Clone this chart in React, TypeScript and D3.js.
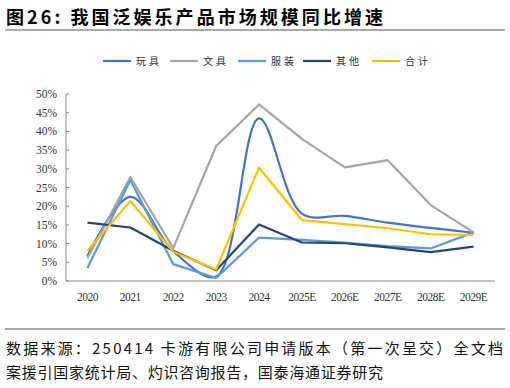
import React, { useEffect, useRef } from 'react';
import * as d3 from 'd3';

const years = ['2020', '2021', '2022', '2023', '2024', '2025E', '2026E', '2027E', '2028E', '2029E'];
const toys = [6.7, 22.5, 8.0, 1.2, 43.5, 18.0, 17.4, 15.6, 14.2, 12.9];
const stationery = [6.1, 27.8, 8.8, 36.1, 47.2, 38.0, 30.4, 32.3, 20.3, 13.0];
const apparel = [3.5, 27.0, 4.5, 0.8, 11.6, 11.0, 10.3, 9.3, 8.7, 13.0];
const others = [15.6, 14.3, 8.1, 2.9, 15.1, 10.3, 10.1, 9.0, 7.7, 9.2];
const total = [8.1, 21.4, 7.8, 3.1, 30.3, 16.3, 15.2, 14.1, 12.5, 12.3];
const yTicks = [0, 5, 10, 15, 20, 25, 30, 35, 40, 45, 50];

const series = [
  { name: '玩具', values: toys, color: '#4472C4', smooth: true },
  { name: '文具', values: stationery, color: '#A5A5A5', smooth: false },
  { name: '服装', values: apparel, color: '#5B9BD5', smooth: false },
  { name: '其他', values: others, color: '#264478', smooth: false },
  { name: '合计', values: total, color: '#FFC000', smooth: false },
];

const App = () => {
  const svgRef = useRef<SVGSVGElement>(null);

  useEffect(() => {
    const svg = d3.select(svgRef.current);
    svg.selectAll('*').remove();

    const left = 66, right = 495, top = 94, bottom = 281;
    const x = d3.scaleBand().domain(years).range([left, right]);
    const y = d3.scaleLinear().domain([0, 50]).range([bottom, top]);
    const cx = (d: string) => (x(d) as number) + x.bandwidth() / 2;

    // title
    svg.append('text').attr('x', 6).attr('y', 24)
      .attr('font-family', '"Noto Sans CJK SC", sans-serif')
      .attr('font-weight', 'bold').attr('font-size', 18).attr('fill', '#000')
      .attr('textLength', 377).attr('lengthAdjust', 'spacing')
      .text('图26:  我国泛娱乐产品市场规模同比增速');
    svg.append('line').attr('x1', 5).attr('x2', 505).attr('y1', 30).attr('y2', 30)
      .attr('stroke', '#555').attr('stroke-width', 1);

    // y axis
    svg.append('line').attr('x1', left).attr('x2', left).attr('y1', top).attr('y2', bottom)
      .attr('stroke', '#868686');
    svg.selectAll('.yt').data(yTicks).join('line')
      .attr('x1', left).attr('x2', left + 3)
      .attr('y1', (d) => y(d)).attr('y2', (d) => y(d))
      .attr('stroke', '#868686');
    svg.selectAll('.yl').data(yTicks).join('text')
      .attr('x', 57).attr('y', (d) => y(d) + 4)
      .attr('text-anchor', 'end')
      .attr('font-family', '"Liberation Serif", serif').attr('font-size', 11.5).attr('fill', '#333')
      .text((d) => `${d}%`);

    // x axis
    svg.append('line').attr('x1', left).attr('x2', right).attr('y1', bottom).attr('y2', bottom)
      .attr('stroke', '#868686');
    svg.selectAll('.xl').data(years).join('text')
      .attr('x', (d) => cx(d)).attr('y', 301)
      .attr('text-anchor', 'middle')
      .attr('font-family', '"Liberation Serif", serif').attr('font-size', 11.5)
      .attr('letter-spacing', -0.5).attr('fill', '#333')
      .text((d) => d);

    // lines
    series.forEach((s) => {
      const line = d3.line<number>()
        .x((_, i) => cx(years[i]))
        .y((d) => y(d))
        .curve(s.smooth ? d3.curveCatmullRom.alpha(0.5) : d3.curveLinear);
      svg.append('path').datum(s.values)
        .attr('d', line)
        .attr('fill', 'none').attr('stroke', s.color).attr('stroke-width', 2.2)
        .attr('stroke-linejoin', 'round');
    });

    // legend
    const legendX = [103, 170, 238, 303, 372];
    series.forEach((s, i) => {
      const g = svg.append('g').attr('transform', `translate(${legendX[i]},61)`);
      g.append('line').attr('x1', 0).attr('x2', 28).attr('y1', 0).attr('y2', 0)
        .attr('stroke', s.color).attr('stroke-width', 2.2);
      g.append('text').attr('x', 33).attr('y', 4)
        .attr('font-family', '"Noto Sans CJK SC", sans-serif').attr('font-size', 10)
        .attr('letter-spacing', 3).attr('fill', '#333')
        .text(s.name);
    });

    // footer
    svg.append('line').attr('x1', 5).attr('x2', 505).attr('y1', 329).attr('y2', 329)
      .attr('stroke', '#555').attr('stroke-width', 1);
    const foot = [
      '数据来源：250414 卡游有限公司申请版本（第一次呈交）全文档',
      '案援引国家统计局、灼识咨询报告，国泰海通证券研究',
    ];
    const footLen = [497, 377];
    foot.forEach((t, i) => {
      svg.append('text').attr('x', 6).attr('y', 354 + i * 24)
        .attr('font-family', '"Noto Sans CJK SC", sans-serif').attr('font-size', 15)
        .attr('textLength', footLen[i]).attr('lengthAdjust', 'spacing')
        .attr('fill', '#111')
        .text(t);
    });
  }, []);

  return (
    <div style={{ position: 'absolute', left: 0, top: 0 }}>
      <svg ref={svgRef} width={510} height={388} style={{ display: 'block', background: '#fff' }} />
    </div>
  );
};

export default App;
